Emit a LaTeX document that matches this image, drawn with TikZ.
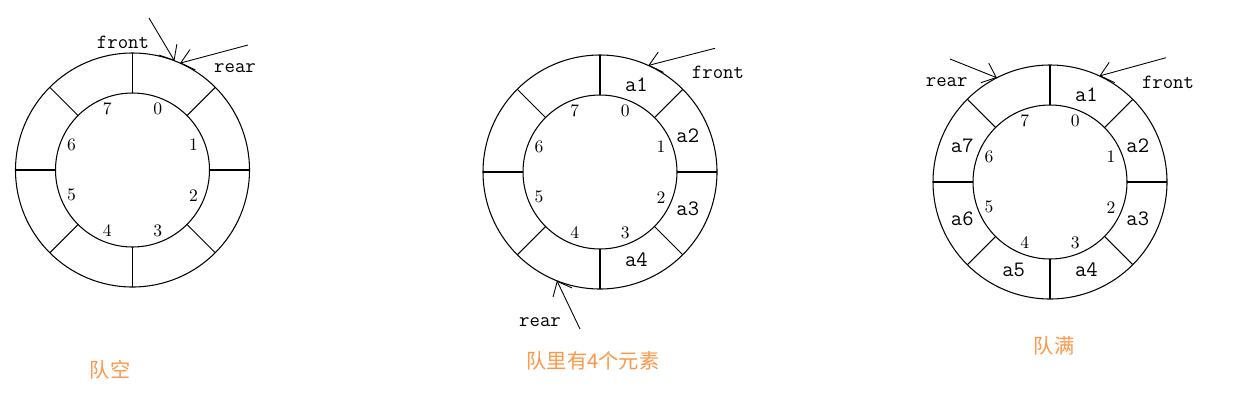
\documentclass[tikz,border=0pt]{standalone}
\usepackage{fontspec}
\newfontfamily\cjk{Noto Sans CJK SC}
\usetikzlibrary{arrows.meta}

\definecolor{capcolor}{RGB}{255,150,70}

\tikzset{
	ring/.style = {line width = 0.6pt},
	idx/.style = {font = \fontsize{10}{11}\selectfont, inner sep = 0pt},
	elem/.style = {font = \ttfamily\fontsize{12.5}{13}\selectfont, inner sep = 0pt},
	ptrtext/.style = {font = \ttfamily\fontsize{11.5}{12}\selectfont, inner sep = 0pt},
	pointer/.style = {-{Straight Barb[length = 7pt, width = 12pt]}, line width = 0.5pt},
	caption/.style = {font = \cjk\fontsize{11.5}{13}\selectfont, text = capcolor, inner sep = 0pt}
}

\begin{document}
\begin{tikzpicture}[x = 0.02cm, y = 0.02cm]
	\useasboundingbox (0, 0) rectangle (1253, 414);
	% centres of the three rings
	\coordinate (c1) at (132.5, 244);
	\coordinate (c2) at (600, 242);
	\coordinate (c3) at (1050, 232);
	\foreach \c in {c1, c2, c3} {
		\draw[ring] (\c) circle[radius = 117];
		\draw[ring] (\c) circle[radius = 77];
		\foreach \a in {0, 45, ..., 315}
			\draw[ring] ([shift = {(\a:77)}]\c) -- ([shift = {(\a:117)}]\c);
		\foreach \k in {0, ..., 7}
			\node[idx] (\c-\k) at ([shift = {({67.5 - 45*\k}:66)}]\c) {\k};
	}
	% elements
	\foreach \k in {1, ..., 4}
		\node[elem] (e2-\k) at ([shift = {({112.5 - 45*\k}:95)}]c2) {a\k};
	\foreach \k in {1, ..., 7}
		\node[elem] (e3-\k) at ([shift = {({112.5 - 45*\k}:95)}]c3) {a\k};
	% queue empty
	\coordinate (f1) at (149, 396);
	\coordinate (r1) at (248, 369);
	\draw[pointer] (f1) -- ([shift = {(69:117)}]c1);
	\draw[pointer] (r1) -- ([shift = {(66:117)}]c1);
		\node[ptrtext] (front1) at (123, 372) {front};
		\node[ptrtext] (rear1) at (235, 346) {rear};
	% four elements
	\coordinate (f2) at (715, 365.7);
	\coordinate (r2) at (580, 85);
	\draw[pointer] (f2) -- ([shift = {(65.6:117)}]c2);
	\draw[pointer] (r2) -- ([shift = {(-111.6:117)}]c2);
		\node[ptrtext] (front2) at (718, 341.3) {front};
		\node[ptrtext] (rear2) at (540, 92.3) {rear};
	% queue full
	\coordinate (f3) at (1166, 356.3);
	\coordinate (r3) at (950, 355);
	\draw[pointer] (f3) -- ([shift = {(65:117)}]c3);
	\draw[pointer] (r3) -- ([shift = {(117:117)}]c3);
		\node[ptrtext] (front3) at (1168, 331.3) {front};
		\node[ptrtext] (rear3) at (946.7, 332.3) {rear};
	% captions
	\node[caption] (cap1) at (110, 44) {队空};
	\node[caption] (cap2) at (593, 53.5) {队里有4个元素};
	\node[caption] (cap3) at (1054, 68) {队满};
\end{tikzpicture}
\end{document}
